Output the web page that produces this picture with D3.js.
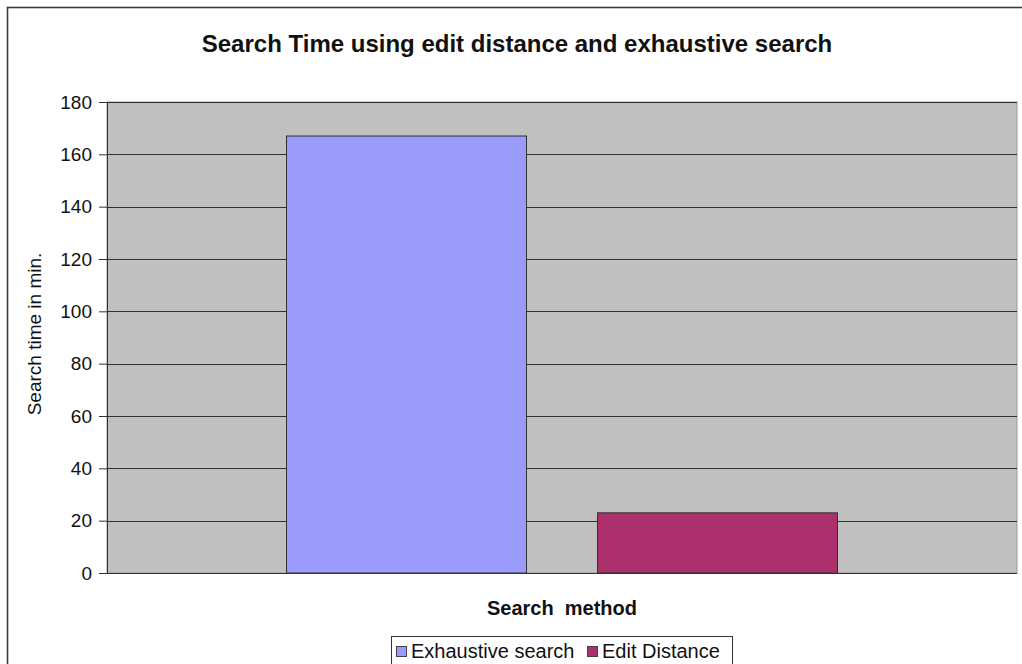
<!DOCTYPE html>
<html>
<head>
<meta charset="utf-8">
<script src="https://cdn.jsdelivr.net/npm/d3@7"></script>
<style>
  html, body { margin: 0; padding: 0; background: #ffffff; }
  svg { display: block; font-family: Arial, "Liberation Sans", sans-serif; }
</style>
</head>
<body>
<svg id="chart" width="1022" height="664"></svg>
<script>
// Chart data
const categories = ["Search method"];
const seriesNames = ["Exhaustive search", "Edit Distance"];
const seriesValues = [167, 23];
const seriesColors = ["#9b9bfc", "#ab306b"];
const yTicks = [0, 20, 40, 60, 80, 100, 120, 140, 160, 180];

const svg = d3.select("#chart");

// Chart frame
svg.append("rect")
  .attr("x", 7.5).attr("y", 7.5)
  .attr("width", 1030).attr("height", 700)
  .attr("fill", "#ffffff").attr("stroke", "#3a3a3a").attr("stroke-width", 1.6);

const plot = { left: 107, right: 1017, top: 102, bottom: 573 };

const y = d3.scaleLinear().domain([0, 180]).range([plot.bottom, plot.top]);
const x0 = d3.scaleBand().domain(categories).range([plot.left, plot.right])
  .paddingOuter(0.3258).paddingInner(0);
const x1 = d3.scaleBand().domain(seriesNames).range([0, x0.bandwidth()])
  .paddingInner(0.2283).paddingOuter(0);

// Plot area background
svg.append("rect")
  .attr("x", plot.left).attr("y", plot.top)
  .attr("width", plot.right - plot.left).attr("height", plot.bottom - plot.top)
  .attr("fill", "#c0c0c0")
  .attr("stroke", "#9a9a9a").attr("stroke-width", 1);

// Horizontal gridlines
svg.append("g").selectAll("line")
  .data(yTicks.filter(t => t > 0))
  .join("line")
  .attr("x1", plot.left).attr("x2", plot.right)
  .attr("y1", d => Math.round(y(d)) + 0.5).attr("y2", d => Math.round(y(d)) + 0.5)
  .attr("stroke", "#303030").attr("stroke-width", 1.2);

// Bars
const group = svg.append("g").attr("transform", `translate(${x0(categories[0])},0)`);
group.selectAll("rect")
  .data(seriesNames.map((n, i) => ({ name: n, value: seriesValues[i], color: seriesColors[i] })))
  .join("rect")
  .attr("x", d => x1(d.name))
  .attr("y", d => y(d.value))
  .attr("width", x1.bandwidth())
  .attr("height", d => y(0) - y(d.value))
  .attr("fill", d => d.color)
  .attr("stroke", "#333")
  .attr("stroke-width", 1);

// Y axis
const yAxis = d3.axisLeft(y).tickValues(yTicks).tickSize(8).tickPadding(7);
const gy = svg.append("g")
  .attr("transform", `translate(${plot.left},0)`)
  .call(yAxis);
gy.select(".domain").attr("stroke", "#333");
gy.selectAll(".tick line").attr("stroke", "#333");
gy.selectAll(".tick text")
  .attr("font-size", 19).attr("fill", "#111")
  .attr("font-family", "Arial, 'Liberation Sans', sans-serif");

// X axis baseline
svg.append("line")
  .attr("x1", plot.left).attr("x2", plot.right)
  .attr("y1", plot.bottom + 0.5).attr("y2", plot.bottom + 0.5)
  .attr("stroke", "#333");

// Title
svg.append("text")
  .attr("x", 517).attr("y", 52)
  .attr("text-anchor", "middle")
  .attr("font-size", 24).attr("font-weight", "bold").attr("fill", "#111")
  .text("Search Time using edit distance and exhaustive search");

// Y axis title
svg.append("text")
  .attr("transform", `translate(41,${334}) rotate(-90)`)
  .attr("text-anchor", "middle")
  .attr("font-size", 19).attr("fill", "#111")
  .text("Search time in min.");

// X axis title
svg.append("text")
  .attr("x", x0(categories[0]) + x0.bandwidth() / 2).attr("y", 615)
  .attr("text-anchor", "middle")
  .attr("font-size", 20).attr("font-weight", "bold").attr("fill", "#111")
  .style("white-space", "pre")
  .text("Search  method");

// Legend
const legend = svg.append("g");
legend.append("rect")
  .attr("x", 391.5).attr("y", 636.5).attr("width", 341).attr("height", 40)
  .attr("fill", "#ffffff").attr("stroke", "#333");
const legendItems = [
  { name: seriesNames[0], color: seriesColors[0], x: 396 },
  { name: seriesNames[1], color: seriesColors[1], x: 587 }
];
legendItems.forEach(it => {
  legend.append("rect")
    .attr("x", it.x + 0.5).attr("y", 646.5).attr("width", 10).attr("height", 10)
    .attr("fill", it.color).attr("stroke", "#444");
  legend.append("text")
    .attr("x", it.x + 15).attr("y", 658)
    .attr("font-size", 20).attr("fill", "#111")
    .text(it.name);
});
</script>
</body>
</html>
